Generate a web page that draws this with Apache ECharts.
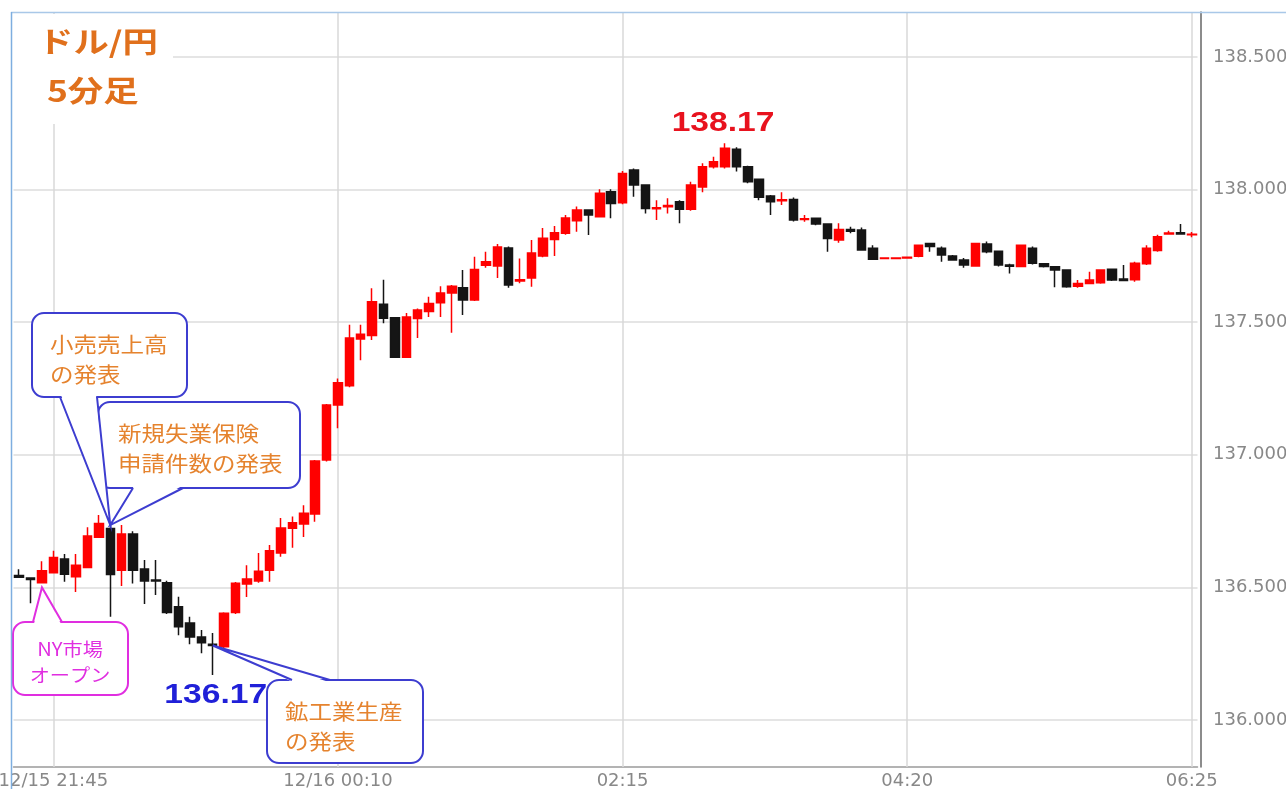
<!DOCTYPE html>
<html><head><meta charset="utf-8">
<script src="https://cdn.jsdelivr.net/npm/echarts@6/dist/echarts.min.js"></script>
<style>html,body{margin:0;padding:0;background:#fff}#c{width:1286px;height:789px}</style>
</head><body><div id="c"></div>
<script>
// ---- data ----
const timeSegments = [["12/15", "21:30", 28], ["12/16", "00:10", 76]];
const opens = [136.545,136.535,136.518,136.555,136.607,136.540,136.575,136.689,136.722,136.565,
136.701,136.569,136.528,136.518,136.427,136.366,136.313,136.286,136.276,136.405,
136.513,136.524,136.565,136.630,136.723,136.739,136.777,136.980,137.188,137.260,
137.437,137.450,137.568,137.517,137.368,137.514,137.540,137.573,137.610,137.630,
137.584,137.715,137.712,137.780,137.655,137.667,137.750,137.812,137.835,137.883,
137.923,137.898,137.992,137.950,138.074,138.017,137.928,137.935,137.954,137.926,
138.010,138.086,138.086,138.152,138.086,138.039,137.976,137.958,137.963,137.887,
137.892,137.870,137.810,137.850,137.848,137.779,137.740,137.740,137.742,137.749,
137.797,137.779,137.750,137.735,137.712,137.795,137.768,137.716,137.710,137.779,
137.720,137.709,137.697,137.636,137.646,137.649,137.700,137.663,137.660,137.720,
137.770,137.833,137.837,137.830];
const closes = [136.538,136.530,136.563,136.613,136.550,136.584,136.694,136.741,136.549,136.701,
136.565,136.524,136.524,136.405,136.352,136.313,136.291,136.281,136.403,136.516,
136.532,136.561,136.638,136.724,136.744,136.780,136.977,137.188,137.272,137.440,
137.455,137.577,137.515,137.368,137.520,137.546,137.571,137.610,137.636,137.584,
137.699,137.728,137.784,137.640,137.660,137.761,137.817,137.837,137.893,137.923,
137.904,137.986,137.948,138.061,138.017,137.929,137.932,137.940,137.926,138.017,
138.086,138.105,138.156,138.086,138.030,137.971,137.954,137.962,137.885,137.890,
137.870,137.816,137.850,137.843,137.772,137.737,137.742,137.742,137.745,137.790,
137.785,137.753,137.735,137.716,137.797,137.766,137.716,137.711,137.790,137.722,
137.710,137.697,137.634,137.646,137.659,137.697,137.659,137.657,137.722,137.779,
137.822,137.836,137.833,137.832];
const lows = [136.536,136.440,136.515,136.552,136.521,136.483,136.572,136.686,136.389,136.505,
136.515,136.437,136.471,136.400,136.320,136.286,136.252,136.170,136.270,136.400,
136.464,136.518,136.521,136.616,136.650,136.690,136.748,136.975,137.100,137.255,
137.357,137.433,137.496,137.365,137.365,137.440,137.520,137.520,137.460,137.527,
137.580,137.705,137.667,137.630,137.647,137.634,137.745,137.750,137.830,137.841,
137.829,137.895,137.892,137.945,137.973,137.910,137.885,137.910,137.873,137.920,
137.990,138.080,138.080,138.068,138.024,137.960,137.904,137.942,137.880,137.879,
137.866,137.766,137.800,137.835,137.770,137.735,137.738,137.738,137.740,137.745,
137.766,137.728,137.732,137.705,137.710,137.760,137.710,137.684,137.708,137.718,
137.706,137.632,137.630,137.630,137.643,137.645,137.655,137.655,137.653,137.716,
137.766,137.830,137.830,137.820];
const highs = [136.568,136.536,136.599,136.638,136.626,136.626,136.727,136.773,136.735,136.735,
136.712,136.603,136.603,136.525,136.465,136.389,136.339,136.328,136.406,136.520,
136.584,136.630,136.660,136.762,136.767,136.810,136.980,137.192,137.288,137.490,
137.490,137.628,137.660,137.520,137.535,137.552,137.596,137.636,137.640,137.697,
137.747,137.766,137.795,137.785,137.740,137.810,137.855,137.863,137.904,137.936,
137.925,138.001,138.001,138.070,138.080,138.020,137.960,137.967,137.960,138.030,
138.099,138.124,138.175,138.160,138.090,138.042,137.980,137.990,137.970,137.904,
137.895,137.873,137.873,137.860,137.857,137.790,137.744,137.744,137.748,137.793,
137.800,137.785,137.753,137.742,137.800,137.804,137.770,137.720,137.792,137.785,
137.722,137.712,137.700,137.659,137.690,137.700,137.702,137.716,137.728,137.790,
137.830,137.845,137.870,137.840];
const yTicks = [136.0, 136.5, 137.0, 137.5, 138.0, 138.5];
const titleLines = ["ドル/円", "5分足"];
const peakText = "138.17";
const troughText = "136.17";
const noteTexts = ["小売売上高\nの発表", "新規失業保険\n申請件数の発表", "鉱工業生産\nの発表", "NY市場\nオープン"];

// ---- categories ----
const categories = [];
timeSegments.forEach(([d, t, n]) => {
  let [h, m] = t.split(':').map(Number);
  for (let k = 0; k < n; k++) {
    categories.push(d + ' ' + String(h).padStart(2, '0') + ':' + String(m).padStart(2, '0'));
    m += 5; if (m >= 60) { m -= 60; h = (h + 1) % 24; }
  }
});
const labelStart = 3, labelStep = 25;
const labelIdx = categories.map((c, i) => i).filter(i => i >= labelStart && (i - labelStart) % labelStep === 0);

const candleData = opens.map((o, i) => [o, closes[i], lows[i], highs[i]]);

const chart = echarts.init(document.getElementById('c'), null, { renderer: 'canvas' });
chart.setOption({
  animation: false,
  grid: { left: 13.5, top: 12, width: 1184, height: 755, containLabel: false, outerBoundsMode: 'none' },
  xAxis: {
    type: 'category', data: categories, boundaryGap: true,
    axisLine: { show: true, lineStyle: { color: '#9a9a9a', width: 1.5 } },
    axisTick: { show: false }, splitLine: { show: false },
    axisLabel: {
      interval: (i) => labelIdx.includes(i),
      formatter: (v, i) => {
        const p = i - labelStep;
        const d = v.split(' ')[0];
        if (p < 0 || categories[p].split(' ')[0] !== d) return v;
        return v.split(' ')[1];
      },
      color: '#888', fontFamily: 'DejaVu Sans', fontSize: 18, margin: 5
    }
  },
  yAxis: {
    type: 'value', position: 'right', offset: 3.5,
    min: 135.8228, max: 138.6697,
    axisLine: { show: true, lineStyle: { color: '#666', width: 1.5 } },
    axisTick: { show: false, customValues: yTicks },
    axisLabel: { customValues: yTicks, formatter: v => v.toFixed(3), color: '#888', fontFamily: 'DejaVu Sans', fontSize: 18, margin: 12 },
    splitLine: { show: true, lineStyle: { color: '#dcdcdc', width: 1.5 } }
  },
  series: [
    {
      type: 'candlestick', data: candleData, barWidth: 9, z: 3,
      itemStyle: { color: '#ff0000', color0: '#151515', borderColor: '#ff0000', borderColor0: '#151515', borderWidth: 1.5 }
    },
    {
      type: 'line', data: [], z: 1,
      markLine: {
        silent: true, symbol: ['none', 'none'], label: { show: false }, z: 1,
        lineStyle: { color: '#d8d8d8', type: 'solid', width: 1.5 },
        data: labelIdx.map(i => ({ xAxis: categories[i] }))
      }
    }
  ]
});

const px = (i, v) => chart.convertToPixel({ gridIndex: 0 }, [categories[i], v]);
const orange = '#e5832e', blue = '#3d3dd0', magenta = '#e02ee0';

function callout(box, b1, b2, tip, stroke, text, tx, ty, fontSize, textColor, lh, align) {
  const els = [];
  els.push({ type: 'rect', z: 10, shape: { x: box[0], y: box[1], width: box[2], height: box[3], r: 12 }, style: { fill: '#fff', stroke: stroke, lineWidth: 2 } });
  const inward = (b1[1] <= box[1] + 1) ? 2 : -2;
  els.push({ type: 'polygon', z: 11, shape: { points: [[b1[0] + 1, b1[1] + inward], [b2[0] - 1, b2[1] + inward], tip] }, style: { fill: '#fff' } });
  els.push({ type: 'polyline', z: 12, shape: { points: [b1, tip, b2] }, style: { stroke: stroke, lineWidth: 2, fill: null } });
  els.push({ type: 'text', z: 13, x: tx, y: ty, scaleX: 1.12, style: { text: text, fill: textColor, font: fontSize + 'px "Noto Sans CJK JP"', lineHeight: lh, align: align || 'left', verticalAlign: 'top' } });
  return els;
}

const tipA = px(8, highs[8]);
const tipB = px(17, closes[17]);
const tipC = px(2, lows[2]);
const peak = px(62, highs[62]);
const trough = px(17, lows[17]);

const els = [
  // frame
  { type: 'line', z: 20, shape: { x1: 11, y1: 12.5, x2: 1286, y2: 12.5 }, style: { stroke: '#a9c8e8', lineWidth: 1.5 } },
  { type: 'line', z: 20, shape: { x1: 11.5, y1: 12, x2: 11.5, y2: 789 }, style: { stroke: '#7eaee0', lineWidth: 1.5 } },
  // title
  { type: 'rect', z: 5, shape: { x: 13, y: 14, width: 160, height: 110 }, style: { fill: '#fff' } },
  { type: 'text', z: 6, x: 38, y: 42, scaleX: 1.22, style: { text: titleLines[0], fill: '#e0701c', font: 'bold 29px "Noto Sans CJK JP"', verticalAlign: 'middle' } },
  { type: 'text', z: 6, x: 47, y: 91, scaleX: 1.22, style: { text: titleLines[1], fill: '#e0701c', font: 'bold 29px "Noto Sans CJK JP"', verticalAlign: 'middle' } },
  // value labels
  { type: 'text', z: 6, x: peak[0] - 2, y: peak[1] - 6, scaleX: 1.2, style: { text: peakText, fill: '#e8121e', font: 'bold 28px "Liberation Sans"', align: 'center', verticalAlign: 'bottom' } },
  { type: 'text', z: 6, x: trough[0] + 3, y: trough[1] + 34, scaleX: 1.2, style: { text: troughText, fill: '#2020d8', font: 'bold 28px "Liberation Sans"', align: 'center', verticalAlign: 'bottom' } }
];
els.push(...callout([32, 313, 155, 84], [60, 397], [97, 397], tipA, blue, noteTexts[0], 50, 329, 21, orange, 30));
els.push(...callout([98, 402, 202, 86], [133, 488], [183, 488], tipA, blue, noteTexts[1], 118, 418, 21, orange, 30));
els.push(...callout([267, 680, 156, 83], [292, 680], [330, 680], tipB, blue, noteTexts[2], 285, 696, 21, orange, 30));
els.push(...callout([13, 622, 115, 73], [33, 622], [62, 622], [tipC[0], tipC[1] + 4], magenta, noteTexts[3], 70, 636, 18, magenta, 26, 'center'));

chart.setOption({ graphic: { elements: els } });
</script>
</body></html>
